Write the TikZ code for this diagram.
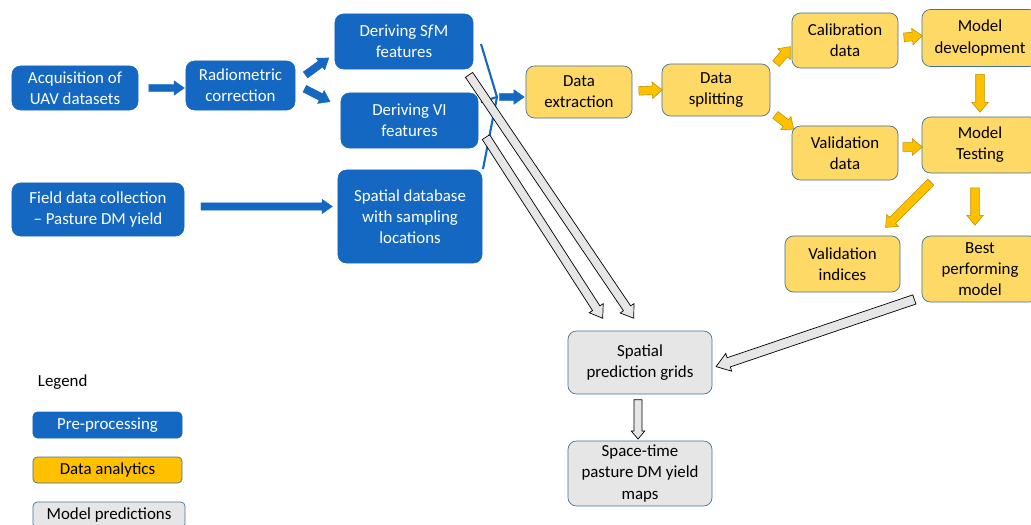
\documentclass[tikz,border=0pt]{standalone}
\usepackage{fontspec}
\setmainfont{Carlito}
\usepackage{tikz}
\usetikzlibrary{shapes,arrows.meta,positioning,calc}

\definecolor{preblue}{RGB}{20,104,194}
\definecolor{boxyellow}{RGB}{255,217,102}
\definecolor{arrowyellow}{RGB}{255,192,0}
\definecolor{arrowedge}{RGB}{191,144,0}
\definecolor{predgray}{RGB}{231,230,230}
\definecolor{edgeblue}{RGB}{65,113,156}

\tikzset{
    box/.style={rectangle, rounded corners=6pt, align=center, inner sep=1pt,
        font=\fontsize{12}{15}\selectfont},
    prebox/.style={box, fill=preblue, draw=preblue, text=white},
    anabox/.style={box, fill=boxyellow, draw=edgeblue, line width=0.5pt},
    predbox/.style={box, fill=predgray, draw=edgeblue, line width=0.5pt},
    blockarrow/.style={to path={
        let \p1=(\tikztostart), \p2=(\tikztotarget),
            \n1={atan2(\y2-\y1,\x2-\x1)}, \n2={veclen(\x2-\x1,\y2-\y1)}
        in node[single arrow, inner xsep=0pt, outer sep=0pt, rotate=\n1,
            minimum height=\n2, minimum width=0pt, #1] at ($(\p1)!0.5!(\p2)$) {}}},
    prearrow/.style={blockarrow={fill=preblue, draw=preblue, line width=0.3pt,
        inner ysep=2.5pt, single arrow head extend=2.5pt, single arrow tip angle=70}},
    anaarrow/.style={blockarrow={fill=arrowyellow, draw=arrowedge, line width=0.4pt,
        inner ysep=2.85pt, single arrow head extend=2.85pt, single arrow tip angle=80}},
    predarrow/.style={blockarrow={fill=predgray, draw=black, line width=0.5pt,
        inner ysep=2.85pt, single arrow head extend=2.85pt, single arrow tip angle=70}},
    bigpredarrow/.style={blockarrow={fill=predgray, draw=black, line width=0.5pt,
        inner ysep=3.2pt, single arrow head extend=3.2pt, single arrow tip angle=70}},
    shortpredarrow/.style={blockarrow={fill=predgray, draw=black, line width=0.5pt,
        inner ysep=2.6pt, single arrow head extend=2pt, single arrow tip angle=80}}
}

\begin{document}
\begin{tikzpicture}[x=0.025cm, y=-0.025cm]
    \useasboundingbox (0,0) rectangle (1031,525);

    % Pre-processing
    \node[prebox, minimum width=3.15cm, minimum height=1.1cm] (acq) at (75,88) {Acquisition of\\UAV datasets};
    \node[prebox, minimum width=2.725cm, minimum height=1.225cm] (radio) at (240.5,85.5) {Radiometric\\correction};
    \node[prebox, minimum width=3.45cm, minimum height=1.375cm] (sfm) at (404,41.5) {Deriving S\textit{f}M\\features};
    \node[prebox, minimum width=3.425cm, minimum height=1.375cm] (vi) at (409.5,120.5) {Deriving VI\\features};
    \node[prebox, minimum width=4.3cm, minimum height=1.325cm] (field) at (98,209.5) {Field data collection\\-- Pasture DM yield};
    \node[prebox, minimum width=3.6cm, minimum height=2.325cm] (sdb) at (410,216.5) {Spatial database\\with sampling\\locations};

    % Data analytics
    \node[anabox, minimum width=2.65cm, minimum height=1.3cm] (extract) at (579,92) {Data\\extraction};
    \node[anabox, minimum width=2.7cm, minimum height=1.3cm] (split) at (716,90) {Data\\splitting};
    \node[anabox, minimum width=2.65cm, minimum height=1.375cm] (calib) at (845,40.5) {Calibration\\data};
    \node[anabox, minimum width=2.9cm, minimum height=1.425cm] (modeldev) at (980,38) {Model\\development};
    \node[anabox, minimum width=2.65cm, minimum height=1.35cm] (valid) at (845,153) {Validation\\data};
    \node[anabox, minimum width=2.9cm, minimum height=1.4cm] (modeltest) at (980,145) {Model\\Testing};
    \node[anabox, minimum width=2.875cm, minimum height=1.4cm] (valind) at (842.5,264) {Validation\\indices};
    \node[anabox, minimum width=2.9cm, minimum height=1.65cm] (best) at (980,269) {Best\\performing\\model};

    % Model predictions
    \node[predbox, minimum width=3.6cm, minimum height=1.575cm] (grids) at (640,362.5) {Spatial\\prediction grids};
    \node[predbox, minimum width=3.6cm, minimum height=1.625cm] (maps) at (640,473.5) {Space-time\\pasture DM yield\\maps};

    % Legend
    \node[anchor=west, font=\fontsize{12}{15}\selectfont] (legend) at (33,382) {Legend};
    \node[prebox, rounded corners=3pt, minimum width=3.725cm, minimum height=0.65cm] (legpre) at (107.5,425) {Pre-processing};
    \node[anabox, fill=arrowyellow, rounded corners=3pt, minimum width=3.725cm, minimum height=0.65cm] (legana) at (107.5,470) {Data analytics};
    \node[predbox, rounded corners=3pt, minimum width=3.8cm, minimum height=0.65cm] (legpred) at (109,515) {Model predictions};

    % Blue arrows
    \path[prearrow] ([shift={(8,0)}]acq.east) to ([shift={(-4,0)}]acq.east -| radio.west);
    \path[prearrow] ([shift={(8,-9)}]radio.east) to ([shift={(-8,18)}]sfm.west);
    \path[prearrow] ([shift={(7,2)}]radio.east) to ([shift={(-13,-20)}]vi.west);
    \path[prearrow] ([shift={(14,-3)}]field.east) to ([shift={(-8,-10)}]sdb.west);

    % Bracket joining the features
    \coordinate (join) at (497,97);
    \draw[preblue, line width=1.5pt] (481,44) -- (join) -- (483,169);
    \draw[preblue, line width=1.5pt] (481,102) -- (join);
    \path[prearrow] (join) to ([shift={(-4,0)}]extract.west |- join);

    % Yellow arrows
    \path[anaarrow] ([shift={(4,-1)}]extract.east) to ([shift={(-2,0)}]split.west);
    \path[anaarrow] ([shift={(4,2)}]split.north east) to ([shift={(-3,8)}]calib.west);
    \path[anaarrow] ([shift={(3,-3)}]split.south east) to ([shift={(0,2)}]valid.north west);
    \path[anaarrow] ([shift={(3,-3)}]calib.east) to ([shift={(-2,-2)}]modeldev.west);
    \path[anaarrow] ([shift={(0,5)}]modeldev.south) to ([shift={(0,-7)}]modeltest.north);
    \path[anaarrow] ([shift={(2,-6)}]valid.east) to ([shift={(-2,2)}]modeltest.west);
    \path[anaarrow] ([shift={(11,7)}]modeltest.south west) to ([shift={(-13,-10)}]valind.north east);
    \path[anaarrow] ([shift={(-5,12)}]modeltest.south) to ([shift={(-5,-13)}]best.north);

    % Grey arrows
    \path[predarrow] ([shift={(-6,3)}]sfm.south east) to ([shift={(-8,-15)}]grids.north);
    \path[predarrow] ([shift={(6,14)}]vi.east) to ([shift={(-39,-15)}]grids.north);
    \path[bigpredarrow] ([shift={(-4,-4)}]best.south west) to ([shift={(7,3)}]grids.east);
    \path[shortpredarrow] ([shift={(-2,3)}]grids.south) to ([shift={(-2,-4)}]maps.north);
\end{tikzpicture}
\end{document}
